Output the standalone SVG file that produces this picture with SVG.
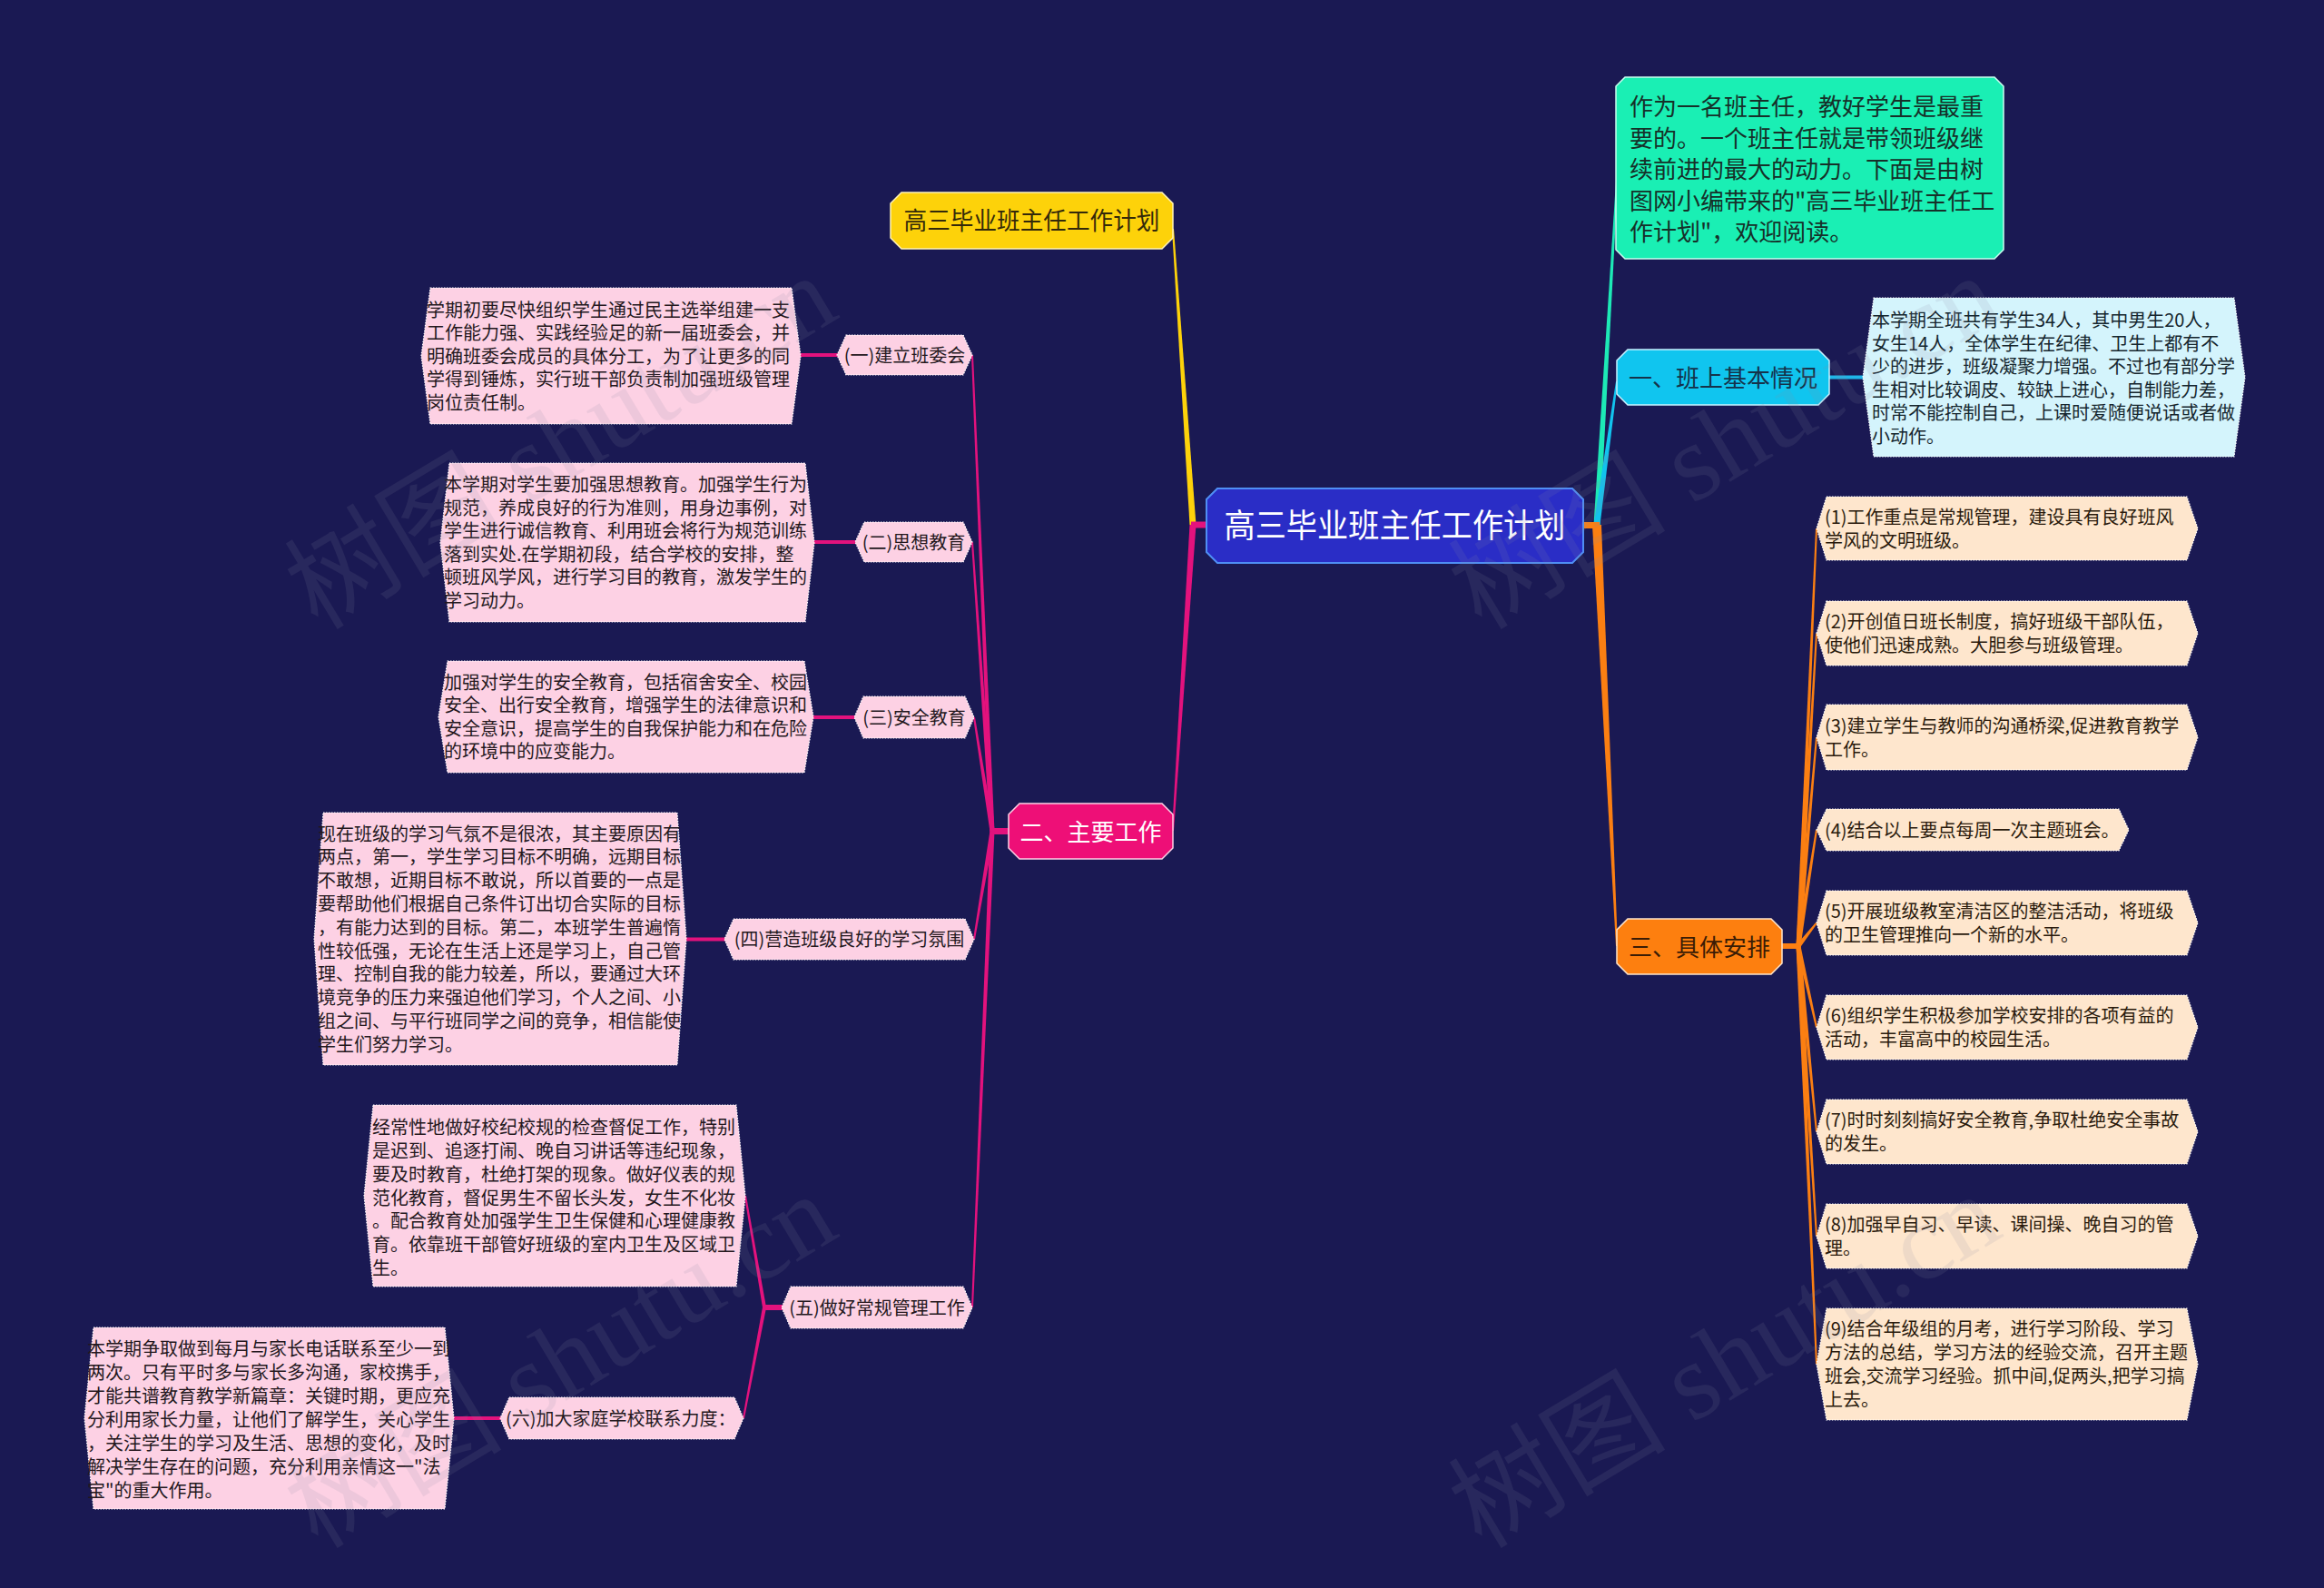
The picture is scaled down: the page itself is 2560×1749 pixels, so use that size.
<svg xmlns="http://www.w3.org/2000/svg" width="2560" height="1749" viewBox="0 0 2560 1749">
<defs>
<style>
text{font-family:"Noto Sans CJK SC","Noto Sans",sans-serif}
.d{font-size:20px;fill:#24181d}
.dk{font-size:20px;fill:#2a1a0c}
.db{font-size:20px;fill:#15262e}
.pk{fill:#fdd1e4;stroke:#ffffff;stroke-width:1.2;stroke-dasharray:1.5 1.5}
.pe{fill:#fee6cd;stroke:#ffffff;stroke-width:1.2;stroke-dasharray:1.5 1.5}
.lb{fill:#d4f4fc;stroke:#ffffff;stroke-width:1.2;stroke-dasharray:1.5 1.5}
.mg{fill:#e3127d}
.oc{fill:#fb7f12}
.hl{stroke:#e3127d;stroke-width:4}
.m{text-anchor:middle}
.wm{font-family:"Liberation Serif","Noto Sans CJK SC",serif;font-size:120px;fill:#8a8aa2;opacity:.13}
</style>
</defs>
<rect width="2560" height="1749" fill="#1a1953"/>

<g id="connectors">
  <polygon points="1310.5,578 1317.5,578 1293,252 1291,252" fill="#fdd20a"/>
  <polygon class="mg" points="1310.5,578 1317.5,578 1293,915 1291,915"/>
  <rect class="mg" x="1312" y="574.5" width="18" height="7"/>
  <polygon points="1755.5,578 1762.5,578 1782,200 1780,200" fill="#1de9b6"/>
  <polygon points="1755.5,578 1762.5,578 1782,420 1780,420" fill="#12c3ee"/>
  <polygon class="oc" points="1754,578 1764,578 1782,1042 1780,1042"/>
  <rect class="oc" x="1743" y="575" width="19" height="7"/>
  <line x1="2015" y1="415.5" x2="2053" y2="415.5" stroke="#1fb5e8" stroke-width="4"/>
  <rect class="oc" x="1962" y="1039" width="20" height="6"/>
  <polygon class="oc" points="1978.5,1042 1983.5,1042 2002,582 2000,582"/>
  <polygon class="oc" points="1978.5,1042 1983.5,1042 2002,697.5 2000,697.5"/>
  <polygon class="oc" points="1978.5,1042 1983.5,1042 2002,812 2000,812"/>
  <polygon class="oc" points="1978.5,1041.6 1983.5,1042.4 2002,914.2 2000,913.8"/>
  <polygon class="oc" points="1979,1040.5 1983,1043.5 2001.8,1017.1 2000.2,1015.9"/>
  <polygon class="oc" points="1983.4,1041.5 1978.6,1042.5 2000,1131.7 2002,1131.3"/>
  <polygon class="oc" points="1983.5,1041.8 1978.5,1042.2 2000,1246.6 2002,1246.4"/>
  <polygon class="oc" points="1983.5,1042 1978.5,1042 2000,1361.5 2002,1361.5"/>
  <polygon class="oc" points="1983.5,1042 1978.5,1042 2000,1502.5 2002,1502.5"/>
  <rect class="mg" x="1092" y="912" width="20" height="7"/>
  <polygon class="mg" points="1090.5,915.5 1095.5,915.5 1072,391 1070,391"/>
  <polygon class="mg" points="1090.5,915.5 1095.5,915.5 1072,597 1070,597"/>
  <polygon class="mg" points="1090.5,915.9 1095.5,915.1 1074,789.8 1072,790.2"/>
  <polygon class="mg" points="1090.5,915.1 1095.5,915.9 1074,1034.7 1072,1034.3"/>
  <polygon class="mg" points="1090.5,915.5 1095.5,915.5 1072,1440 1070,1440"/>
  <rect class="mg" x="841" y="1437" width="21" height="6"/>
  <polygon class="mg" points="840,1440.3 844,1439.7 822,1316.8 820,1317.2"/>
  <polygon class="mg" points="840,1439.6 844,1440.4 820,1562.2 818,1561.8"/>
  <line class="hl" x1="881" y1="391" x2="923" y2="391"/>
  <line class="hl" x1="896" y1="597" x2="943" y2="597"/>
  <line class="hl" x1="895" y1="790" x2="942" y2="790"/>
  <line class="hl" x1="755" y1="1034.5" x2="799" y2="1034.5"/>
  <line class="hl" x1="499" y1="1562" x2="552" y2="1562"/>
</g>

<g id="root">
  <polygon points="1341,538 1732,538 1744,550 1744,608 1732,620 1341,620 1329,608 1329,550" fill="#2a2dc6" stroke="#4f8ef5" stroke-width="2"/>
  <text class="m" x="1536.5" y="592" font-size="36" fill="#ffffff" textLength="376" lengthAdjust="spacingAndGlyphs">高三毕业班主任工作计划</text>
</g>

<g id="title-node">
  <polygon points="993,212 1280,212 1292,224 1292,262 1280,274 993,274 981,262 981,224" fill="#fdd20a" stroke="#fff3b8" stroke-width="1.5"/>
  <text class="m" x="1136.5" y="253" font-size="27" fill="#33290a" textLength="282" lengthAdjust="spacingAndGlyphs">高三毕业班主任工作计划</text>
</g>

<g id="intro-node">
  <polygon points="1790,85 2197,85 2207,95 2207,275 2197,285 1790,285 1780,275 1780,95" fill="#1aefb4" stroke="#c8fff0" stroke-width="1.5"/>
  <g font-size="26" fill="#163029">
    <text x="1795" y="127">作为一名班主任，教好学生是最重</text>
    <text x="1795" y="161.5">要的。一个班主任就是带领班级继</text>
    <text x="1795" y="196">续前进的最大的动力。下面是由树</text>
    <text x="1795" y="230.5">图网小编带来的"高三毕业班主任工</text>
    <text x="1795" y="265">作计划"，欢迎阅读。</text>
  </g>
</g>

<g id="node-basic">
  <polygon points="1793,385 2003,385 2015,397 2015,434 2003,446 1793,446 1781,434 1781,397" fill="#10c5ef" stroke="#c8f2ff" stroke-width="1.5"/>
  <text class="m" x="1898" y="425.5" font-size="26" fill="#15324a">一、班上基本情况</text>
</g>

<g id="node-basic-detail">
  <polygon class="lb" points="2064,328 2461,328 2473,415.5 2461,503 2064,503 2052,415.5"/>
  <text class="db" x="2062" y="360">本学期全班共有学生34人，其中男生20人，</text>
  <text class="db" x="2062" y="385.5">女生14人，全体学生在纪律、卫生上都有不</text>
  <text class="db" x="2062" y="411">少的进步，班级凝聚力增强。不过也有部分学</text>
  <text class="db" x="2062" y="436.5">生相对比较调皮、较缺上进心，自制能力差，</text>
  <text class="db" x="2062" y="462">时常不能控制自己，上课时爱随便说话或者做</text>
  <text class="db" x="2062" y="487.5">小动作。</text>
</g>

<g id="node-arrange">
  <polygon points="1793,1012 1951,1012 1963,1024 1963,1061 1951,1073 1793,1073 1781,1061 1781,1024" fill="#fd7f0f" stroke="#ffe6cc" stroke-width="1.5"/>
  <text class="m" x="1872" y="1052.5" font-size="26" fill="#3a1c05">三、具体安排</text>
</g>

<g id="arr-1">
  <polygon class="pe" points="2012,547 2409,547 2421,582 2409,617 2012,617 2001,582"/>
  <text class="dk" x="2010" y="576.6">(1)工作重点是常规管理，建设具有良好班风</text>
  <text class="dk" x="2010" y="602.6">学风的文明班级。</text>
</g>
<g id="arr-2">
  <polygon class="pe" points="2012,662 2409,662 2421,697.5 2409,733 2012,733 2001,697.5"/>
  <text class="dk" x="2010" y="692.1">(2)开创值日班长制度，搞好班级干部队伍，</text>
  <text class="dk" x="2010" y="718.1">使他们迅速成熟。大胆参与班级管理。</text>
</g>
<g id="arr-3">
  <polygon class="pe" points="2012,776 2409,776 2421,812 2409,848 2012,848 2001,812"/>
  <text class="dk" x="2010" y="806.6">(3)建立学生与教师的沟通桥梁,促进教育教学</text>
  <text class="dk" x="2010" y="832.6">工作。</text>
</g>
<g id="arr-4">
  <polygon class="pe" points="2012,891 2334,891 2345,914 2334,937 2012,937 2001,914"/>
  <text class="dk" x="2010" y="921.6">(4)结合以上要点每周一次主题班会。</text>
</g>
<g id="arr-5">
  <polygon class="pe" points="2012,981 2409,981 2421,1016.5 2409,1052 2012,1052 2001,1016.5"/>
  <text class="dk" x="2010" y="1011.1">(5)开展班级教室清洁区的整洁活动，将班级</text>
  <text class="dk" x="2010" y="1037.1">的卫生管理推向一个新的水平。</text>
</g>
<g id="arr-6">
  <polygon class="pe" points="2012,1096 2409,1096 2421,1131.5 2409,1167 2012,1167 2001,1131.5"/>
  <text class="dk" x="2010" y="1126.1">(6)组织学生积极参加学校安排的各项有益的</text>
  <text class="dk" x="2010" y="1152.1">活动，丰富高中的校园生活。</text>
</g>
<g id="arr-7">
  <polygon class="pe" points="2012,1211 2409,1211 2421,1246.5 2409,1282 2012,1282 2001,1246.5"/>
  <text class="dk" x="2010" y="1241.1">(7)时时刻刻搞好安全教育,争取杜绝安全事故</text>
  <text class="dk" x="2010" y="1267.1">的发生。</text>
</g>
<g id="arr-8">
  <polygon class="pe" points="2012,1326 2409,1326 2421,1361.5 2409,1397 2012,1397 2001,1361.5"/>
  <text class="dk" x="2010" y="1356.1">(8)加强早自习、早读、课间操、晚自习的管</text>
  <text class="dk" x="2010" y="1382.1">理。</text>
</g>
<g id="arr-9">
  <polygon class="pe" points="2012,1441 2409,1441 2421,1502.5 2409,1564 2012,1564 2001,1502.5"/>
  <text class="dk" x="2010" y="1471.1">(9)结合年级组的月考，进行学习阶段、学习</text>
  <text class="dk" x="2010" y="1497.1">方法的总结，学习方法的经验交流，召开主题</text>
  <text class="dk" x="2010" y="1523.1">班会,交流学习经验。抓中间,促两头,把学习搞</text>
  <text class="dk" x="2010" y="1549.1">上去。</text>
</g>

<g id="node-main">
  <polygon points="1123,885 1280,885 1292,897 1292,934 1280,946 1123,946 1111,934 1111,897" fill="#ee0f77" stroke="#ffd0e6" stroke-width="1.5"/>
  <text class="m" x="1201.5" y="925.5" font-size="26" fill="#ffffff">二、主要工作</text>
</g>

<g id="sub-1">
  <polygon class="pk" points="932,369 1061,369 1071,391 1061,413 932,413 922,391"/>
  <text class="d m" x="996.5" y="398.6">(一)建立班委会</text>
</g>
<g id="sub-1-detail">
  <polygon class="pk" points="474,317 872,317 882,392 872,467 474,467 464,392"/>
  <text class="d" x="470" y="348.6">学期初要尽快组织学生通过民主选举组建一支</text>
  <text class="d" x="470" y="374.1">工作能力强、实践经验足的新一届班委会，并</text>
  <text class="d" x="470" y="399.6">明确班委会成员的具体分工，为了让更多的同</text>
  <text class="d" x="470" y="425.1">学得到锤炼，实行班干部负责制加强班级管理</text>
  <text class="d" x="470" y="450.6">岗位责任制。</text>
</g>

<g id="sub-2">
  <polygon class="pk" points="952,575 1061,575 1071,597 1061,619 952,619 942,597"/>
  <text class="d m" x="1006.5" y="604.6">(二)思想教育</text>
</g>
<g id="sub-2-detail">
  <polygon class="pk" points="495,510 887,510 897,597.5 887,685 495,685 485,597.5"/>
  <text class="d" x="489" y="541.4">本学期对学生要加强思想教育。加强学生行为</text>
  <text class="d" x="489" y="566.9">规范，养成良好的行为准则，用身边事例，对</text>
  <text class="d" x="489" y="592.4">学生进行诚信教育、利用班会将行为规范训练</text>
  <text class="d" x="489" y="617.9">落到实处.在学期初段，结合学校的安排，整</text>
  <text class="d" x="489" y="643.4">顿班风学风，进行学习目的教育，激发学生的</text>
  <text class="d" x="489" y="668.9">学习动力。</text>
</g>

<g id="sub-3">
  <polygon class="pk" points="951,767 1063,767 1073,790 1063,813 951,813 941,790"/>
  <text class="d m" x="1007" y="797.6">(三)安全教育</text>
</g>
<g id="sub-3-detail">
  <polygon class="pk" points="493,728 886,728 896,789.5 886,851 493,851 483,789.5"/>
  <text class="d" x="489" y="758.9">加强对学生的安全教育，包括宿舍安全、校园</text>
  <text class="d" x="489" y="784.4">安全、出行安全教育，增强学生的法律意识和</text>
  <text class="d" x="489" y="809.9">安全意识，提高学生的自我保护能力和在危险</text>
  <text class="d" x="489" y="835.4">的环境中的应变能力。</text>
</g>

<g id="sub-4">
  <polygon class="pk" points="808,1012 1063,1012 1073,1034.5 1063,1057 808,1057 798,1034.5"/>
  <text class="d m" x="935.5" y="1042.1">(四)营造班级良好的学习氛围</text>
</g>
<g id="sub-4-detail">
  <polygon class="pk" points="356,895 746,895 756,1034 746,1173 356,1173 346,1034"/>
  <text class="d" x="350" y="925.5">现在班级的学习气氛不是很浓，其主要原因有</text>
  <text class="d" x="350" y="951.3">两点，第一，学生学习目标不明确，远期目标</text>
  <text class="d" x="350" y="977.1">不敢想，近期目标不敢说，所以首要的一点是</text>
  <text class="d" x="350" y="1002.9">要帮助他们根据自己条件订出切合实际的目标</text>
  <text class="d" x="350" y="1028.7">，有能力达到的目标。第二，本班学生普遍惰</text>
  <text class="d" x="350" y="1054.5">性较低强，无论在生活上还是学习上，自己管</text>
  <text class="d" x="350" y="1080.3">理、控制自我的能力较差，所以，要通过大环</text>
  <text class="d" x="350" y="1106.1">境竞争的压力来强迫他们学习，个人之间、小</text>
  <text class="d" x="350" y="1131.9">组之间、与平行班同学之间的竞争，相信能使</text>
  <text class="d" x="350" y="1157.7">学生们努力学习。</text>
</g>

<g id="sub-5">
  <polygon class="pk" points="871,1417 1061,1417 1071,1440 1061,1463 871,1463 861,1440"/>
  <text class="d m" x="966" y="1447.6">(五)做好常规管理工作</text>
</g>
<g id="sub-5-detail">
  <polygon class="pk" points="411,1217 811,1217 821,1317 811,1417 411,1417 401,1317"/>
  <text class="d" x="410" y="1249.1">经常性地做好校纪校规的检查督促工作，特别</text>
  <text class="d" x="410" y="1274.9">是迟到、追逐打闹、晚自习讲话等违纪现象，</text>
  <text class="d" x="410" y="1300.7">要及时教育，杜绝打架的现象。做好仪表的规</text>
  <text class="d" x="410" y="1326.5">范化教育，督促男生不留长头发，女生不化妆</text>
  <text class="d" x="410" y="1352.3">。配合教育处加强学生卫生保健和心理健康教</text>
  <text class="d" x="410" y="1378.1">育。依靠班干部管好班级的室内卫生及区域卫</text>
  <text class="d" x="410" y="1403.9">生。</text>
</g>

<g id="sub-6">
  <polygon class="pk" points="561,1539 809,1539 819,1562 809,1585 561,1585 551,1562"/>
  <text class="d" x="557" y="1569.6">(六)加大家庭学校联系力度：</text>
</g>
<g id="sub-6-detail">
  <polygon class="pk" points="103,1462 490,1462 500,1562 490,1662 103,1662 93,1562"/>
  <text class="d" x="96" y="1492.6">本学期争取做到每月与家长电话联系至少一到</text>
  <text class="d" x="96" y="1518.6">两次。只有平时多与家长多沟通，家校携手，</text>
  <text class="d" x="96" y="1544.6">才能共谱教育教学新篇章：关键时期，更应充</text>
  <text class="d" x="96" y="1570.6">分利用家长力量，让他们了解学生，关心学生</text>
  <text class="d" x="96" y="1596.6">，关注学生的学习及生活、思想的变化，及时</text>
  <text class="d" x="96" y="1622.6">解决学生存在的问题，充分利用亲情这一"法</text>
  <text class="d" x="96" y="1648.6">宝"的重大作用。</text>
</g>

<g id="watermarks">
  <text class="wm" transform="translate(350,695) rotate(-31)">树图 shutu.cn</text>
  <text class="wm" transform="translate(1632,695) rotate(-31)">树图 shutu.cn</text>
  <text class="wm" transform="translate(350,1707) rotate(-31)">树图 shutu.cn</text>
  <text class="wm" transform="translate(1632,1707) rotate(-31)">树图 shutu.cn</text>
</g>
</svg>
